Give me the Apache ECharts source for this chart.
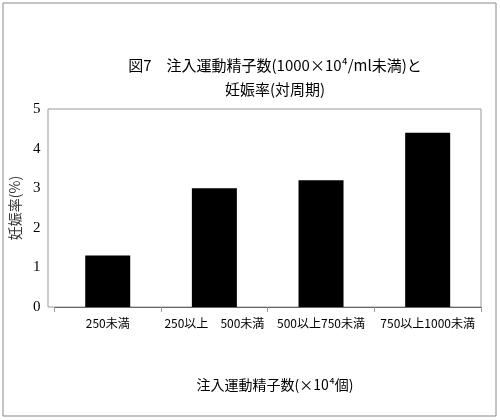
<!DOCTYPE html><html><head><meta charset="utf-8"><script src="https://cdn.jsdelivr.net/npm/echarts@6/dist/echarts.min.js"></script></head><body style="margin:0"><div id="c" style="width:500px;height:420px"></div><script>
const categories=['250未満','250以上　500未満','500以上750未満','750以上1000未満'];
const rates=[1.3,3.0,3.2,4.4];
const yTicks=[0,1,2,3,4,5];
const F='"Noto Sans CJK JP"';
const ch=echarts.init(document.getElementById('c'));
ch.setOption({animation:false,backgroundColor:'#fff',
graphic:[{type:'rect',shape:{x:3,y:3,width:493,height:413},style:{fill:'none',stroke:'#888',lineWidth:1}},
{type:'rect',shape:{x:48,y:109,width:433,height:198},style:{fill:'none',stroke:'#999',lineWidth:1}}],
title:[{text:'図7　注入運動精子数(1000×10⁴/ml未満)と\n妊娠率(対周期)',left:270,top:48,textAlign:'center',textStyle:{fontFamily:F,fontSize:15,fontWeight:'normal',color:'#000',lineHeight:24}},
{text:'注入運動精子数(×10⁴個)',left:270,top:373,textAlign:'center',textStyle:{fontFamily:F,fontSize:14,fontWeight:'normal',color:'#000'}}],
grid:{left:48,right:19,top:109,bottom:113},
xAxis:{type:'category',data:categories,axisLine:{lineStyle:{color:'#666'}},axisTick:{show:true,length:5,lineStyle:{color:'#999'}},axisLabel:{fontFamily:F,fontSize:12,color:'#000',margin:10,interval:0}},
yAxis:{type:'value',min:0,max:5,interval:1,name:'妊娠率(%)',nameLocation:'middle',nameGap:28,nameTextStyle:{fontFamily:F,fontSize:14,color:'#333'},axisLine:{show:false},axisTick:{show:false},splitLine:{show:false},axisLabel:{fontFamily:'Liberation Serif',fontSize:15,color:'#000',margin:14,formatter:v=>yTicks.includes(v)?String(v):''}},
series:[{type:'bar',data:rates,barWidth:45,itemStyle:{color:'#000'}}]});
</script></body></html>
